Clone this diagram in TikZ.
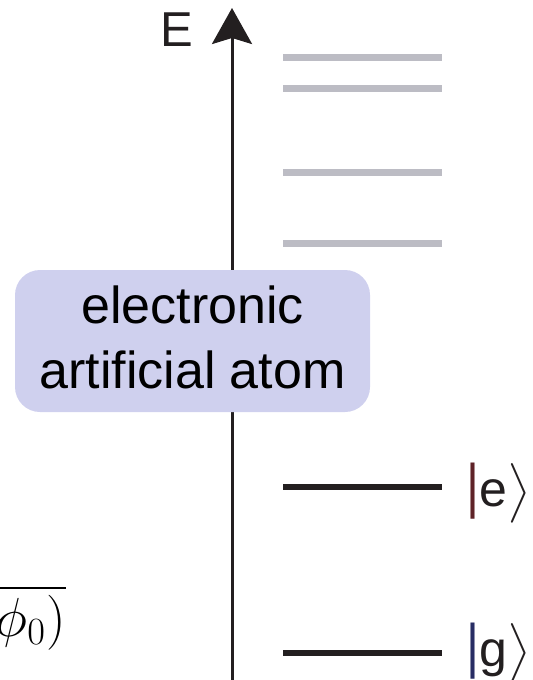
\RequirePackage{fix-cm}
\documentclass[tikz,border=0pt]{standalone}
\usepackage{amsmath}
\usepackage{graphicx}
\usepackage{fontspec}
\setmainfont{Liberation Sans}
\usetikzlibrary{arrows.meta}

\definecolor{atomfill}{RGB}{207,208,238}
\definecolor{upperlevel}{RGB}{188,188,196}
\definecolor{levelink}{RGB}{35,31,32}
\definecolor{ebar}{RGB}{95,35,40}
\definecolor{gbar}{RGB}{40,45,100}

\begin{document}
\begin{tikzpicture}[
  x=0.5pt, y=-0.5pt,
  upper/.style={draw=upperlevel, line width=3.5pt},
  level/.style={draw=levelink, line width=3.3pt},
  ket/.style={anchor=base west, inner sep=0pt, text=levelink,
    font=\fontsize{25}{30}\selectfont},
  atombox/.style={fill=atomfill, rounded corners=12.5pt, align=center,
    minimum width=177.5pt, minimum height=71pt, inner sep=0pt,
    text depth=4pt, font=\fontsize{26}{32.5}\selectfont},
]
\useasboundingbox (0,0) rectangle (532,680);
\clip (0,0) rectangle (532,680);

% energy axis
\coordinate (axisbot) at (232,680);
\coordinate (axistop) at (232,8);
\draw[draw=levelink, line width=1.5pt,
  -{Stealth[length=18pt, width=20pt, inset=3pt]}] (axisbot) -- (axistop);
\node[text=levelink, font=\fontsize{24.5}{29}\selectfont] (elabel) at (177,30) {E};

% higher levels
\foreach \y in {57,88,172,243}
  \draw[upper] (283,\y) -- (442,\y);

\draw[level] (283,487) -- (442,487);
\draw[level] (283,653) -- (442,653);
\node[ket] (kete) at (466,506)
  {\textcolor{ebar}{\scalebox{1}[1.2]{|}}e\(\bigr\rangle\)};
\node[ket] (ketg) at (466,666)
  {\textcolor{gbar}{\scalebox{1}[1.2]{|}}g\(\bigr\rangle\)};

\node[atombox] (atom) at (192.5,341) {electronic\\artificial atom};

\node[anchor=base east, inner sep=0pt, font=\fontsize{27.5}{33}\selectfont]
  (phase) at (66,636) {$\overline{\phi_0)}$};
\end{tikzpicture}
\end{document}
